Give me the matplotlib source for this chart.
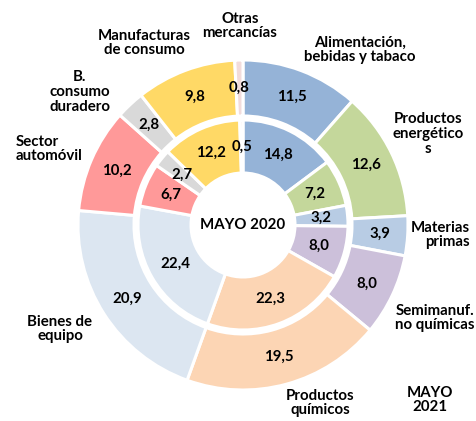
import numpy as np
import matplotlib.pyplot as plt

plt.rcParams['font.family'] = ['Lato', 'DejaVu Sans']

# data (clockwise from 12 o'clock)
categories = ['Alimentación,\nbebidas y tabaco', 'Productos\nenergético\ns', 'Materias\nprimas',
              'Semimanuf.\nno químicas', 'Productos\nquímicos', 'Bienes de\nequipo',
              'Sector\nautomóvil', 'B.\nconsumo\nduradero', 'Manufacturas\nde consumo',
              'Otras\nmercancías']
may2021 = [11.5, 12.6, 3.9, 8.0, 19.5, 20.9, 10.2, 2.8, 9.8, 0.8]
may2020 = [14.8, 7.2, 3.2, 8.0, 22.3, 22.4, 6.7, 2.7, 12.2, 0.5]
colors = ['#95B3D7', '#C4D79B', '#B8CCE4', '#CCC0DA', '#FCD5B4',
          '#DCE6F1', '#FF9999', '#D9D9D9', '#FFD966', '#F2DCDB']

W, H = 477, 421
fig = plt.figure(figsize=(W / 100, H / 100), dpi=100)
ax = fig.add_axes([0, 0, 1, 1])
ax.set_xlim(0, W)
ax.set_ylim(0, H)
ax.set_aspect('equal')
ax.axis('off')

def py(y):
    # pixel row -> data y
    return H - y

cx, cy = 243, py(225)
r_out, r_mid_out, r_in_out, r_hole = 165, 109, 105, 52
fs = 10.8

wp = dict(edgecolor='white', linewidth=2.2)
ax.pie(may2021, colors=colors, radius=r_out, center=(cx, cy), startangle=90,
       counterclock=False, wedgeprops=dict(width=r_out - r_mid_out, **wp))
ax.pie(may2020, colors=colors, radius=r_in_out, center=(cx, cy), startangle=90,
       counterclock=False, wedgeprops=dict(width=r_in_out - r_hole, **wp))
ax.set_xlim(0, W)
ax.set_ylim(0, H)

def put_values(vals, r):
    cum = np.cumsum([0] + vals[:-1])
    total = sum(vals)
    for v, c in zip(vals, cum):
        ang = np.deg2rad(90 - 360 * (c + v / 2) / total)
        ax.text(cx + r * np.cos(ang), cy + r * np.sin(ang), f'{v:.1f}'.replace('.', ','),
                ha='center', va='center', fontsize=fs, fontweight='bold', color='black')

put_values(may2021, (r_out + r_mid_out) / 2)
put_values(may2020, (r_in_out + r_hole) / 2)

ax.text(cx, cy, 'MAYO 2020', ha='center', va='center', fontsize=fs, fontweight='bold')

# category labels
lab_pos = [(360, 50, 'center'), (428, 134, 'center'), (470, 235, 'right'),
           (435, 318, 'center'), (320, 403, 'center'), (60, 329, 'center'),
           (16, 149, 'left'), (80, 92, 'center'), (144, 43, 'center'), (240, 26, 'center')]
for name, (x, y, ha) in zip(categories, lab_pos):
    ax.text(x, py(y), name, ha=ha, va='center', fontsize=fs, fontweight='bold',
            multialignment=ha, linespacing=1.05)

ax.text(430, py(400), 'MAYO\n2021', ha='center', va='center', fontsize=fs,
        fontweight='bold', linespacing=1.05)

fig.savefig('out.png', dpi=100)
